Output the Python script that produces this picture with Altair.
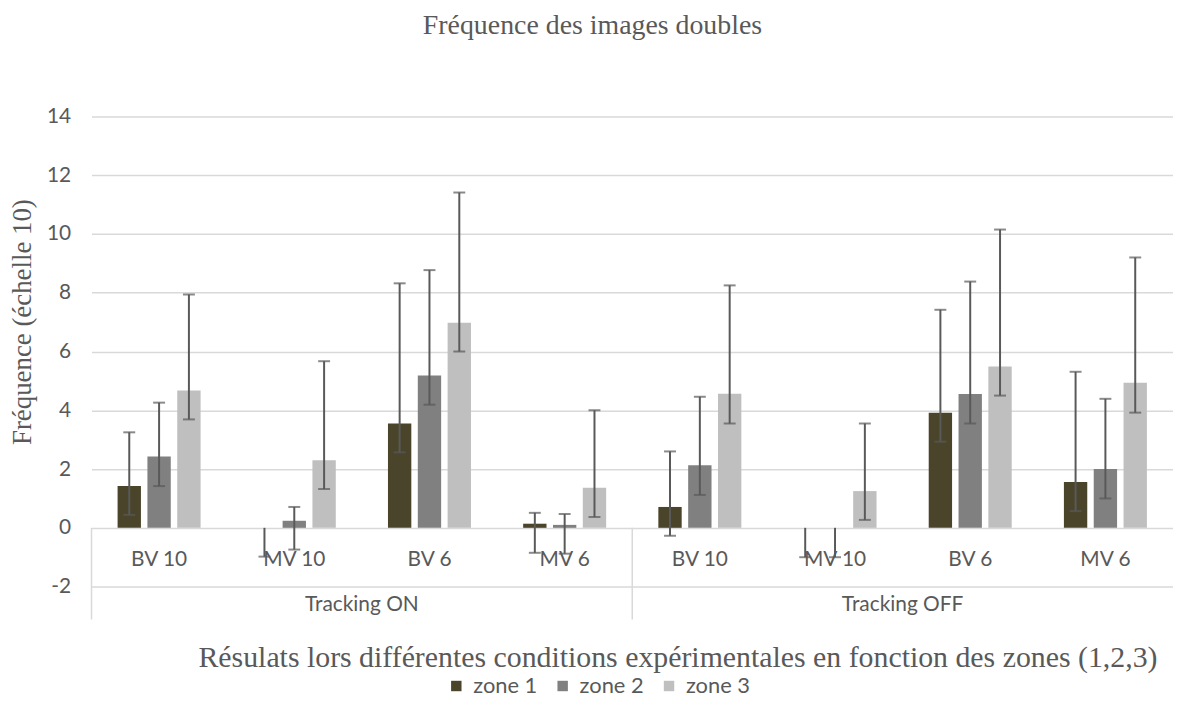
import altair as alt
import pandas as pd

tracking = ["Tracking ON"] * 4 + ["Tracking OFF"] * 4
conditions = ["BV 10", "MV 10", "BV 6", "MV 6", "BV 10", "MV 10", "BV 6", "MV 6"]
zones = ["zone 1", "zone 2", "zone 3"]
zone_colors = ["#4a452a", "#808080", "#bfbfbf"]

zone1 = [1.42, 0.0, 3.55, 0.14, 0.71, 0.0, 3.92, 1.56]
zone1_low = [0.44, -0.98, 2.57, -0.85, -0.27, -1.0, 2.93, 0.57]
zone1_high = [3.25, 0.0, 8.32, 0.51, 2.60, 0.0, 7.42, 5.31]
zone2 = [2.43, 0.24, 5.18, 0.10, 2.13, 0.0, 4.55, 2.00]
zone2_low = [1.42, -0.74, 4.19, -0.88, 1.12, -1.0, 3.55, 1.00]
zone2_high = [4.26, 0.71, 8.77, 0.47, 4.46, 0.0, 8.38, 4.39]
zone3 = [4.67, 2.30, 6.98, 1.36, 4.56, 1.25, 5.49, 4.94]
zone3_low = [3.69, 1.32, 6.00, 0.37, 3.55, 0.27, 4.50, 3.92]
zone3_high = [7.94, 5.67, 11.41, 4.00, 8.25, 3.55, 10.15, 9.20]

y_ticks = [-2, 0, 2, 4, 6, 8, 10, 12, 14]
title_text = "Fréquence des images doubles"
y_title_text = "Fréquence (échelle 10)"
x_title_text = "Résulats lors différentes conditions expérimentales en fonction des zones (1,2,3)"

keys = [f"{t}|{c}" for t, c in zip(tracking, conditions)]
series = [(zone1, zone1_low, zone1_high), (zone2, zone2_low, zone2_high), (zone3, zone3_low, zone3_high)]
rows = []
for z, (vals, lows, highs) in zip(zones, series):
    for k, v, lo, hi in zip(keys, vals, lows, highs):
        rows.append({"key": k, "zone": z, "value": v, "low": lo, "high": hi})
df = pd.DataFrame(rows)
labels_df = pd.DataFrame({"key": keys, "cond": conditions})
one = pd.DataFrame({"a": [0]})

W, H = 1088, 473
GRAY = "#595959"
SANS = "Lato"
SERIF = "Liberation Serif"
FS = 21

xs = alt.X("key:N", axis=None, scale=alt.Scale(domain=keys, paddingInner=0.386, paddingOuter=0.193))
xo = alt.XOffset("zone:N", scale=alt.Scale(domain=zones, paddingInner=0.217, paddingOuter=0))
yscale = alt.Scale(domain=[-2, 14], nice=False, zero=False)

bars = alt.Chart(df).mark_bar().encode(
    x=xs,
    xOffset=xo,
    y=alt.Y("value:Q", stack=None, scale=yscale,
            axis=alt.Axis(values=y_ticks, title=None, domain=False, ticks=False, grid=True,
                          gridColor="#d9d9d9", gridWidth=1.5, labelFont=SANS, labelFontSize=FS,
                          labelColor=GRAY, labelPadding=21, labelExpr="'' + datum.value")),
    color=alt.Color("zone:N", scale=alt.Scale(domain=zones, range=zone_colors),
                    legend=alt.Legend(orient="none", legendX=356, legendY=562, direction="horizontal",
                                      title=None, symbolType="square", symbolSize=110,
                                      symbolStrokeWidth=0, labelFont=SANS, labelFontSize=22,
                                      labelColor=GRAY, labelOffset=6, columnPadding=14, padding=0)),
)

err = alt.Chart(df).mark_rule(color=GRAY, strokeWidth=2).encode(
    x=xs, xOffset=xo, y=alt.Y("low:Q", scale=yscale), y2="high:Q"
)
cap_low = alt.Chart(df).mark_tick(color=GRAY, size=12, thickness=2).encode(
    x=xs, xOffset=xo, y=alt.Y("low:Q", scale=yscale)
)
cap_high = alt.Chart(df).transform_filter("datum.high > datum.value + 0.01").mark_tick(
    color=GRAY, size=12, thickness=2
).encode(x=xs, xOffset=xo, y=alt.Y("high:Q", scale=yscale))

sep_left = alt.Chart(one).mark_rule(color="#d9d9d9", strokeWidth=1.5).encode(
    x=alt.value(0), y=alt.datum(0, scale=yscale), y2=alt.datum(-3.12)
)
sep_mid = alt.Chart(one).mark_rule(color="#d9d9d9", strokeWidth=1.5).encode(
    x=alt.value(W / 2), y=alt.datum(0), y2=alt.datum(-3.12)
)

inner = alt.Chart(labels_df).mark_text(font=SANS, fontSize=FS, color=GRAY, baseline="middle").encode(
    x=xs, y=alt.datum(-1.1), text="cond:N"
)
outer_on = alt.Chart(one).mark_text(text="Tracking ON", font=SANS, fontSize=FS, color=GRAY, baseline="middle").encode(
    x=alt.value(W / 4), y=alt.datum(-2.63)
)
outer_off = alt.Chart(one).mark_text(text="Tracking OFF", font=SANS, fontSize=FS, color=GRAY, baseline="middle").encode(
    x=alt.value(3 * W / 4), y=alt.datum(-2.63)
)

title = alt.Chart(one).mark_text(text=title_text, font=SERIF, fontSize=28, color=GRAY, baseline="middle").encode(
    x=alt.value(504), y=alt.value(-91)
)
y_title = alt.Chart(one).mark_text(text=y_title_text, font=SERIF, fontSize=27, color=GRAY, baseline="middle", angle=270).encode(
    x=alt.value(-69), y=alt.datum(7)
)
x_title = alt.Chart(one).mark_text(text=x_title_text, font=SERIF, fontSize=30, color=GRAY, baseline="middle").encode(
    x=alt.value(590), y=alt.value(545)
)

chart = alt.layer(
    bars, err, cap_low, cap_high, sep_left, sep_mid, inner, outer_on, outer_off, title, y_title, x_title
).properties(
    width=W, height=H,
    autosize=alt.AutoSizeParams(type="none"),
    padding={"left": 84, "top": 107, "right": 0, "bottom": 110},
    background="white",
).configure_view(stroke=None)

chart.save("out.html", embed_options={"renderer": "svg", "actions": False})
